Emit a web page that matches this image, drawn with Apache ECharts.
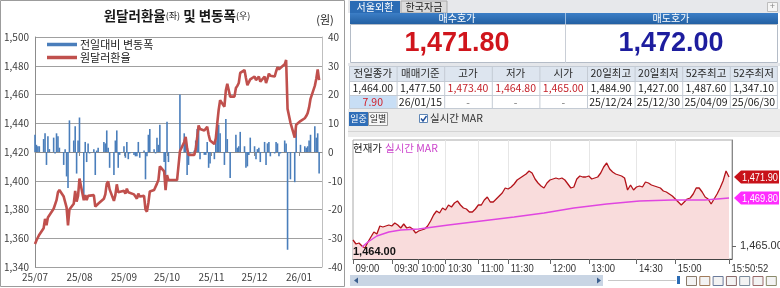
<!DOCTYPE html>
<html><head><meta charset="utf-8">
<script src="https://cdn.jsdelivr.net/npm/echarts@6/dist/echarts.min.js"></script>
<style>html,body{margin:0;padding:0;background:#fff}#c{width:780px;height:288px}</style>
</head><body><div id="c"></div>
<script>
// ---------- Left chart data (USD/KRW close and daily change) ----------
const julDays = [1,2,3,4,7,8,9,10,11,14,15,16,17,18,21,22,23,24,25,28,29,30,31];
const julRate = [1356.0,1358.5,1360.5,1362.5,1367.0,1373.5,1369.0,1374.5,1375.5,1380.5,1380.0,1386.5,1392.0,1393.5,1389.0,1390.0,1381.5,1369.0,1380.0,1384.0,1393.0,1385.5,1389.5];
const julChg  = [6.0,2.5,2.0,2.0,4.5,6.5,-4.5,5.5,1.0,5.0,-0.5,6.5,5.5,1.5,-4.5,1.0,-8.5,-12.5,11.0,4.0,9.0,-7.5,4.0];
const augDays = [1,4,5,6,7,8,11,12,13,14,18,19,20,21,22,25,26,27,28,29];
const augRate = [1401.5,1386.5,1390.0,1386.5,1389.5,1389.0,1390.0,1382.0,1382.5,1384.0,1387.5,1390.5,1398.0,1399.5,1394.0,1386.0,1390.0,1397.5,1392.0,1391.0];
const augChg  = [12.0,-15.0,3.5,-3.5,3.0,-0.5,1.0,-8.0,0.5,1.5,3.5,3.0,7.5,1.5,-5.5,-8.0,4.0,7.5,-5.5,-1.0];
const sepDays = [1,2,3,4,5,8,9,10,11,12,15,16,17,18,19,22,23,24,25,26,29,30];
const sepRate = [1393.0,1391.0,1394.5,1392.0,1391.5,1390.5,1389.0,1387.5,1391.0,1389.0,1389.5,1380.0,1378.5,1384.5,1392.5,1393.5,1393.0,1398.0,1400.5,1410.0,1406.5,1393.5];
const sepChg  = [2.0,-2.0,3.5,-2.5,-0.5,-1.0,-1.5,-1.5,3.5,-2.0,0.5,-9.5,-1.5,6.0,8.0,1.0,-0.5,5.0,2.5,9.5,-3.5,-13.0];
const octDays = [1,2,3,6,7,8,9,10,13,14,15,16,17,20,21,22,23,24,27,28,29,30,31];
const octRate = [1404.0,1400.5,1400.5,1400.5,1400.5,1400.5,1400.5,1420.5,1427.0,1430.5,1422.5,1418.0,1417.5,1418.0,1422.0,1430.0,1438.5,1436.0,1435.0,1434.0,1437.5,1432.0,1428.0];
const octChg  = [10.5,-3.5,null,null,null,null,null,20.0,6.5,3.5,-8.0,-4.5,-0.5,0.5,4.0,8.0,8.5,-2.5,-1.0,-1.0,3.5,-5.5,-4.0];
const novDays = [3,4,5,6,7,10,11,12,13,14,17,18,19,20,21,24,25,26,27,28];
const novRate = [1425.5,1429.5,1440.0,1449.5,1456.0,1451.5,1463.0,1467.5,1467.5,1458.5,1458.5,1464.5,1466.0,1468.0,1475.0,1477.0,1471.5,1466.5,1465.5,1470.5];
const novChg  = [-2.5,4.0,10.5,9.5,6.5,-4.5,11.5,4.5,0.0,-9.0,0.0,6.0,1.5,2.0,7.0,2.0,-5.5,-5.0,-1.0,5.0];
const decDays = [1,2,3,4,5,8,9,10,11,12,15,16,17,18,19,22,23,24,26,29,30];
const decRate = [1472.5,1470.0,1471.0,1472.5,1469.0,1472.5,1468.0,1471.0,1474.5,1473.0,1472.5,1476.0,1479.0,1477.5,1477.0,1481.0,1484.0,1450.0,1440.5,1430.0,1439.0];
const decChg  = [2.0,-2.5,1.0,1.5,-3.5,3.5,-4.5,3.0,3.5,-1.5,-0.5,3.5,3.0,-1.5,-0.5,4.0,3.0,-34.0,-9.5,-10.5,9.0];
const janDays = [2,5,6,7,8,9,12,13,14,15];
const janRate = [1441.5,1443.5,1445.0,1447.0,1451.0,1457.0,1466.0,1471.0,1477.5,1470.0];
const janChg  = [2.5,2.0,1.5,2.0,4.0,6.0,9.0,5.0,6.5,-7.5];

const leftTitle = '원달러환율';
const rightUnit = '(원)';
const seriesBarName = '전일대비 변동폭';
const seriesLineName = '원달러환율';

// ---------- Right panel data ----------
const bidLabel = '매수호가', askLabel = '매도호가';
const bidPrice = '1,471.80', askPrice = '1,472.00';
const tabs = ['서울외환', '한국자금'];
const tblHead = ['전일종가','매매기준','고가','저가','시가','20일최고','20일최저','52주최고','52주최저'];
const tblVal  = ['1,464.00','1,477.50','1,473.40','1,464.80','1,465.00','1,484.90','1,427.00','1,487.60','1,347.10'];
const tblSub  = ['7.90','26/01/15','-','-','-','25/12/24','25/12/30','25/04/09','25/06/30'];
const prevClose = 1464.00;
const lastPrice = 1471.90;
const lastMar = 1469.80;
const intradayPrice = [
1465.6,1465.2,1465.3,1465.0,1464.8,1465.4,1465.9,1466.4,1466.2,1467.0,
1466.9,1467.0,1467.1,1467.0,1467.3,1467.1,1466.8,1467.2,1466.8,1466.9,
1466.7,1466.3,1466.5,1466.6,1466.7,1467.0,1467.5,1468.1,1468.5,1468.3,
1468.8,1468.6,1469.1,1468.9,1469.3,1469.5,1469.1,1468.8,1468.7,1468.4,
1468.4,1468.7,1469.1,1469.1,1469.6,1469.9,1469.4,1469.4,1469.7,1470.0,
1470.3,1470.8,1470.7,1470.9,1471.2,1471.6,1471.8,1472.0,1472.2,1472.5,
1472.3,1471.7,1471.3,1471.0,1470.8,1471.3,1471.6,1471.7,1471.8,1471.7,
1471.8,1471.6,1471.2,1470.8,1470.9,1471.7,1472.0,1471.9,1471.9,1472.0,
1471.7,1471.8,1471.9,1472.3,1472.9,1473.3,1472.7,1472.4,1472.2,1472.1,
1472.0,1471.8,1470.6,1471.1,1470.6,1470.9,1471.0,1470.9,1471.4,1471.3,
1471.1,1471.0,1470.9,1470.8,1470.5,1470.4,1470.2,1470.0,1469.7,1469.4,
1469.1,1469.4,1469.7,1469.8,1470.2,1470.8,1470.8,1470.4,1469.9,1469.7,
1469.2,1469.7,1470.2,1470.8,1471.5,1472.5,1471.9];
const marIdx = [3,5,8,12,16,22,32,43,54,64,74,85,96,107,118,126];
const marVal = [1464.9,1465.4,1466.0,1466.4,1466.6,1466.7,1467.1,1467.5,1467.9,1468.3,1468.8,1469.2,1469.5,1469.6,1469.6,1469.8];
const timeLabels = ['09:00','09:30','10:00','10:30','11:00','11:30','12:00','13:00','14:30','15:00','15:50:52'];
const timeLabelIdx = [0,13,22,31,42,52,66,79,95,108,126];

// ---------- build ----------
const FONT = '"Noto Sans CJK KR","Noto Sans",sans-serif';
const NUM = '"Liberation Sans",Arial,sans-serif';

const calDays = [];
const t0 = Date.UTC(2025, 6, 1);
for (let i = 0; i < 201; i++) calDays.push(new Date(t0 + i * 86400000).toISOString().slice(0, 10));
const rateMap = {}, chgMap = {};
[['2025-07', julDays, julRate, julChg], ['2025-08', augDays, augRate, augChg], ['2025-09', sepDays, sepRate, sepChg],
 ['2025-10', octDays, octRate, octChg], ['2025-11', novDays, novRate, novChg], ['2025-12', decDays, decRate, decChg],
 ['2026-01', janDays, janRate, janChg]].forEach(([m, days, r, c]) => {
  days.forEach((d, k) => { const key = m + '-' + String(d).padStart(2, '0'); rateMap[key] = r[k]; chgMap[key] = c[k]; });
});
const rateSeries = calDays.map(d => (d in rateMap ? rateMap[d] : null));
const chgSeries = calDays.map(d => (d in chgMap ? chgMap[d] : null));

const idxCats = [];
for (let i = 0; i < intradayPrice.length + 1; i++) idxCats.push(String(i));
const labelAt = {};
timeLabelIdx.forEach((ix, k) => { labelAt[ix] = timeLabels[k]; });
const marData = marIdx.map((ix, k) => [ix, marVal[k]]);
const fmt2 = v => v.toLocaleString('en-US', { minimumFractionDigits: 2, maximumFractionDigits: 2 });

const chart = echarts.init(document.getElementById('c'), null, { renderer: 'canvas', width: 780, height: 288 });

const option = {
  animation: false,
  backgroundColor: '#ffffff',
  textStyle: { fontFamily: FONT },
  grid: [
    { left: 35, top: 37, width: 287, height: 230, containLabel: false, outerBoundsMode: 'none' },
    { left: 353, top: 140, width: 379, height: 119, containLabel: false, outerBoundsMode: 'none',
      show: true, backgroundColor: '#ffffff', borderColor: '#a8a8a8', borderWidth: 1 }
  ],
  legend: {
    data: [{ name: seriesBarName, icon: 'rect' }, { name: seriesLineName, icon: 'rect' }],
    orient: 'vertical', left: 42, top: 34, itemWidth: 30, itemHeight: 3.5, itemGap: 2,
    textStyle: { fontSize: 11, color: '#222', fontFamily: FONT, padding: [0, 0, 0, -2] }, selectedMode: false
  },
  xAxis: [
    { type: 'category', gridIndex: 0, data: calDays, boundaryGap: false,
      axisLine: { lineStyle: { color: '#8c8c8c' } },
      axisTick: { interval: (i, v) => v.endsWith('-01'), length: 4, lineStyle: { color: '#8c8c8c' } },
      axisLabel: { interval: (i, v) => v.endsWith('-01'), formatter: v => v.slice(2, 4) + '/' + v.slice(5, 7),
        fontSize: 10, color: '#404040', margin: 5, fontFamily: FONT },
      splitLine: { show: false } },
    { type: 'category', gridIndex: 1, data: idxCats, boundaryGap: false,
      axisLine: { lineStyle: { color: '#444' } },
      axisTick: { interval: (i) => i in labelAt, length: 5, lineStyle: { color: '#666' } },
      axisLabel: { show: false },
      splitLine: { show: true, interval: (i) => (i in labelAt) && i !== 0 && i !== 126, lineStyle: { color: '#e6e6e6' } } }
  ],
  yAxis: [
    { type: 'value', gridIndex: 0, min: 1340, max: 1500, interval: 20,
      axisLine: { show: true, lineStyle: { color: '#8c8c8c' } }, axisTick: { show: false },
      axisLabel: { formatter: v => v.toLocaleString('en-US'), fontSize: 10, color: '#404040', margin: 6, fontFamily: FONT },
      splitLine: { lineStyle: { color: '#a0a0a0' } } },
    { type: 'value', gridIndex: 0, position: 'right', min: -40, max: 40, interval: 10,
      axisLine: { show: true, lineStyle: { color: '#bfbfbf' } }, axisTick: { show: false },
      axisLabel: { fontSize: 10, color: '#404040', margin: 6, fontFamily: FONT }, splitLine: { show: false } },
    { type: 'value', gridIndex: 1, position: 'right', min: 1463.7, max: 1475.6,
      axisLine: { show: true, lineStyle: { color: '#888' } },
      axisTick: { show: true, customValues: [1465], length: 4, lineStyle: { color: '#666' } },
      axisLabel: { customValues: [1465], formatter: v => fmt2(v), fontSize: 11, color: '#333', margin: 8, fontFamily: NUM },
      splitLine: { show: false } }
  ],
  series: [
    { name: seriesBarName, type: 'bar', xAxisIndex: 0, yAxisIndex: 1, data: chgSeries, barWidth: 1.6,
      itemStyle: { color: '#4a7ebb' }, silent: true, z: 2 },
    { name: seriesLineName, type: 'line', xAxisIndex: 0, yAxisIndex: 0, data: rateSeries, connectNulls: true,
      showSymbol: false, symbol: 'none', lineStyle: { color: '#c0504d', width: 2.6 }, itemStyle: { color: '#c0504d' },
      silent: true, z: 3 },
    { name: '현재가', type: 'line', xAxisIndex: 1, yAxisIndex: 2, data: intradayPrice, showSymbol: false, symbol: 'none',
      lineStyle: { color: '#b3131a', width: 1.3 }, areaStyle: { color: '#f9dcdc', opacity: 1, origin: 'start' },
      silent: true, z: 2 },
    { name: 'MAR', type: 'line', xAxisIndex: 1, yAxisIndex: 2, data: marData, showSymbol: false, symbol: 'none',
      lineStyle: { color: '#e046e0', width: 1.5 }, silent: true, z: 3 }
  ]
};
chart.setOption(option);

// ---------- graphics (UI panel) ----------
const G = [];
let gid = 0;
function R(x, y, w, h, fill, stroke, z) {
  G.push({ id: 'g' + (gid++), type: 'rect', shape: { x, y, width: w, height: h }, z: z == null ? -5 : z, silent: true,
    style: { fill: fill || 'none', stroke: stroke || null, lineWidth: 1 } });
}
function L(x1, y1, x2, y2, color, z) {
  G.push({ id: 'g' + (gid++), type: 'line', shape: { x1, y1, x2, y2 }, z: z == null ? -4 : z, silent: true, style: { stroke: color, lineWidth: 1 } });
}
function T(x, y, text, o, z, sx) {
  const st = Object.assign({ text, fill: '#222', font: '10px ' + FONT, align: 'center', verticalAlign: 'middle' }, o || {});
  st.textAlign = st.align; st.textVerticalAlign = st.verticalAlign;
  const el = { id: 'g' + (gid++), type: 'text', x, y, z: z == null ? 10 : z, silent: true, style: st };
  if (sx) { el.scaleX = sx; }
  G.push(el);
}

// left panel frame and titles
R(0.5, 0.5, 344, 286, null, '#9c9c9c', 20);
G.push({ id: 'title', type: 'text', x: 177, y: 16, z: 10, silent: true, style: {
  text: '{b|' + leftTitle + '}{s|(좌)}{b| 및 변동폭}{s|(우)}', align: 'center', verticalAlign: 'middle',
  textAlign: 'center', textVerticalAlign: 'middle',
  rich: { b: { fontSize: 13.5, fontWeight: 'bold', fontFamily: FONT, fill: '#1a1a1a', color: '#1a1a1a' },
          s: { fontSize: 9, fontFamily: FONT, fill: '#1a1a1a', color: '#1a1a1a' } } } });
T(325, 20, rightUnit, { font: '11px ' + FONT, fill: '#222' });

// right panel: tabs strip
R(348, 0, 432, 13, '#e7e8eb');
R(350, 1, 50, 12, '#2b6cb5');
T(375, 7, tabs[0], { fill: '#ffffff', font: '10px ' + FONT });
R(401, 1, 46, 12, '#dcdcdc', '#a9a9a9');
T(424, 7, tabs[1], { fill: '#222', font: '10px ' + FONT });
R(767.5, 2.5, 10, 9, '#f5f5f5', '#bdbdbd');
T(772.5, 7, '+', { fill: '#888', font: '9px ' + NUM });
// blue header
R(350, 13, 428, 11, { type: 'linear', x: 0, y: 0, x2: 0, y2: 1, colorStops: [{ offset: 0, color: '#3c7ec6' }, { offset: 1, color: '#2360a3' }] });
L(565.5, 13, 565.5, 24, '#9cbde3');
T(457, 18.5, bidLabel, { fill: '#ffffff', font: '10px ' + FONT });
T(671, 18.5, askLabel, { fill: '#ffffff', font: '10px ' + FONT });
// price box
R(350.5, 24.5, 427, 38, '#ffffff', '#b4bcc7');
L(565.5, 24, 565.5, 63, '#c9ced6');
T(457, 44, bidPrice, { fill: '#d0151c', font: 'bold 27px ' + NUM });
T(671, 44, askPrice, { fill: '#1d1d9e', font: 'bold 27px ' + NUM });
R(348, 63, 432, 3, '#e4e6ea');
// table
const colW = 47.6, colX0 = 349;
R(colX0, 66, colW * 9, 15, '#dde5ef');
R(colX0, 95, colW, 14, '#c8def5');
for (let c = 0; c < 9; c++) {
  const cx = colX0 + colW * c + colW / 2;
  T(cx, 73.5, tblHead[c], { fill: '#2a2a2a', font: '10.5px ' + FONT });
  const red = (c >= 2 && c <= 4);
  T(cx, 88.5, tblVal[c], { fill: red ? '#c4232b' : '#222', font: '10.5px ' + FONT });
  const dash = tblSub[c] === '-';
  T(cx, 102.5, tblSub[c], { fill: c === 0 ? '#d0202a' : (dash ? '#777' : '#222'), font: '10.5px ' + FONT });
  L(colX0 + colW * c + 0.5, 66, colX0 + colW * c + 0.5, 109, '#c4cbd4');
}
L(colX0 + colW * 9, 66, colX0 + colW * 9, 109, '#c4cbd4');
[66.5, 81.5, 95.5, 108.5].forEach(y => L(colX0, y, colX0 + colW * 9, y, '#c4cbd4'));
// button row
R(348, 109, 432, 28, '#ececec');
R(349, 112, 19, 14, '#2f6eb8');
T(358.5, 119, '일중', { fill: '#ffffff', font: '9px ' + FONT });
R(368.5, 112.5, 19, 13, '#f7f7f7', '#9a9a9a');
T(378, 119, '일별', { fill: '#222', font: '9px ' + FONT });
R(419.5, 114.5, 8, 8, '#ffffff', '#5f86b5');
G.push({ id: 'chk', type: 'polyline', z: 10, silent: true, shape: { points: [[421, 118.5], [423, 121], [426.5, 116]] }, style: { stroke: '#1f4f9a', lineWidth: 1.4, fill: null } });
T(430, 118.5, '실시간 MAR', { fill: '#333', align: 'left', font: '10.5px ' + FONT });
L(348, 131.5, 780, 131.5, '#d4d4d4');
// chart legend
T(353, 148, '현재가', { fill: '#222', align: 'left', font: '10.5px ' + FONT });
T(385, 148, '실시간 MAR', { fill: '#cc44cc', align: 'left', font: '10.5px ' + FONT });
// scrollbar / toolbar
R(350, 275, 253, 11, '#c9d5e4');
G.push({ id: 'al', type: 'polygon', z: 10, silent: true, shape: { points: [[354, 280.5], [358, 277.5], [358, 283.5]] }, style: { fill: '#3b5f8f' } });
G.push({ id: 'ar', type: 'polygon', z: 10, silent: true, shape: { points: [[601, 280.5], [597, 277.5], [597, 283.5]] }, style: { fill: '#3b5f8f' } });
L(608, 280.5, 676, 280.5, '#c8c8c8');
R(677, 276, 3, 8, '#2b6cb5', null, 10);
['#8a7a6a', '#a07a5a', '#6a7a9a', '#8a6a6a', '#7a8a9a', '#9a6a6a', '#8a8a6a'].forEach((c, k) => {
  R(686.5 + k * 13.3, 276.5, 10, 9, '#f3f3f3', c, 10);
});

// intraday time labels (narrowed text) placed through the x axis
const yBottom = chart.convertToPixel({ yAxisIndex: 2 }, 1463.7);
timeLabelIdx.forEach((ix, k) => {
  const px = chart.convertToPixel({ xAxisIndex: 1 }, ix);
  T(px + 2.5, yBottom + 9.5, timeLabels[k], { fill: '#333', align: 'left', font: '11px ' + NUM }, 10, 0.86);
});

// tags / level labels using axis conversion
const yLast = chart.convertToPixel({ yAxisIndex: 2 }, lastPrice);
const yMar = chart.convertToPixel({ yAxisIndex: 2 }, lastMar);
const yPrev = chart.convertToPixel({ yAxisIndex: 2 }, prevClose);
function tag(y, color, txt, key) {
  G.push({ id: 'tag' + key, type: 'polygon', z: 12, silent: true,
    shape: { points: [[734, y], [741, y - 6.5], [779, y - 6.5], [779, y + 6.5], [741, y + 6.5]] }, style: { fill: color } });
  T(760, y + 0.5, txt, { fill: '#ffffff', font: '11px ' + NUM }, 14, 0.84);
}
tag(yLast, '#c8121a', fmt2(lastPrice), 'a');
tag(yMar, '#ff2cff', fmt2(lastMar), 'b');
T(353, yPrev + 1, fmt2(prevClose), { fill: '#111', align: 'left', verticalAlign: 'bottom', font: 'bold 11px ' + NUM });

chart.setOption({ graphic: { elements: G } });
</script></body></html>
